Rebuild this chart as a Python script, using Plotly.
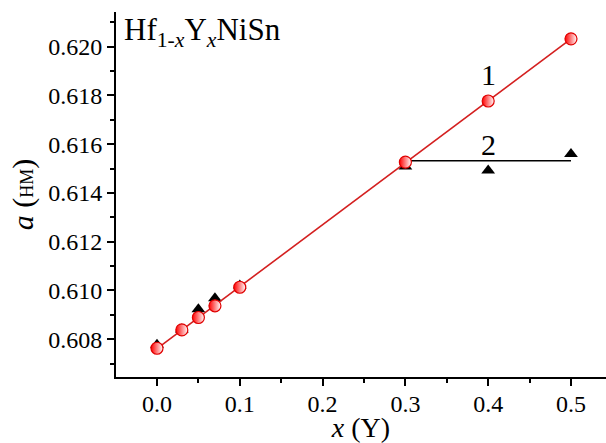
import plotly.graph_objects as go
import numpy as np

# Data
x_vals = [0.0, 0.03, 0.05, 0.07, 0.10, 0.30, 0.40, 0.50]
a_series1 = [0.60763, 0.60838, 0.60889, 0.60937, 0.61013, 0.61526, 0.61777, 0.62032]
a_series2 = [0.60777, 0.60840, 0.60923, 0.60968, 0.61020, 0.61508, 0.61492, 0.61560]
line2_x = [0.30, 0.50]
line2_y = [0.61532, 0.61532]
x_ticks = [0.0, 0.1, 0.2, 0.3, 0.4, 0.5]
y_ticks = [0.608, 0.610, 0.612, 0.614, 0.616, 0.618, 0.620]

coef = np.polyfit(x_vals, a_series1, 1)
fit_x = [0.0, 0.5]
fit_y = list(np.polyval(coef, fit_x))

FONT = "Liberation Serif"
AXFONT = "Times New Roman"

fig = go.Figure()
fig.add_trace(go.Scatter(x=x_vals, y=a_series2, mode="markers",
                         marker=dict(symbol="triangle-up", size=12, color="black",
                                     line=dict(width=0)), showlegend=False))
fig.add_trace(go.Scatter(x=line2_x, y=line2_y, mode="lines",
                         line=dict(color="black", width=1.6), showlegend=False))
fig.add_trace(go.Scatter(x=fit_x, y=fit_y, mode="lines",
                         line=dict(color="#d42020", width=1.6), showlegend=False))
fig.add_trace(go.Scatter(x=x_vals, y=a_series1, mode="markers",
                         marker=dict(symbol="circle", size=12, color="#ff0000",
                                     gradient=dict(type="horizontal", color="white"),
                                     line=dict(color="#e00000", width=1.2)),
                         showlegend=False))

fig.add_annotation(x=0.4, y=0.61884, text="1", showarrow=False,
                   font=dict(family=FONT, size=30, color="black"))
fig.add_annotation(x=0.4, y=0.61597, text="2", showarrow=False,
                   font=dict(family=FONT, size=30, color="black"))
fig.add_annotation(xref="paper", yref="paper", x=0.012, y=0.945,
                   xanchor="left", yanchor="middle",
                   text="Hf<sub>1-<i>x</i></sub>Y<sub><i>x</i></sub>NiSn", showarrow=False,
                   font=dict(family=FONT, size=31, color="black"))

fig.update_layout(width=606, height=443,
                  margin=dict(l=116, r=0, t=12, b=66),
                  paper_bgcolor="white", plot_bgcolor="white",
                  font_family=AXFONT, font_size=24, font_color="black")

fig.update_xaxes(range=[-0.0495, 0.5423], tickvals=x_ticks,
                 ticktext=[f"{v:.1f}" for v in x_ticks],
                 tickfont_family=AXFONT, tickfont_size=24, tickfont_color="black",
                 ticklabelstandoff=-3,
                 showline=True, linecolor="black", linewidth=2,
                 ticks="outside", ticklen=7, tickwidth=2, tickcolor="black",
                 showgrid=False, zeroline=False,
                 minor=dict(dtick=0.05, tick0=0, ticks="outside", ticklen=4,
                            tickwidth=2, tickcolor="black", showgrid=False),
                 title_text="<i>x</i> (Y)", title_font_family=AXFONT,
                 title_font_size=28, title_standoff=0)
fig.update_yaxes(range=[0.60645, 0.62142], tickvals=y_ticks,
                 ticktext=[f"{v:.3f}" for v in y_ticks],
                 tickfont_family=AXFONT, tickfont_size=24, tickfont_color="black",
                 showline=True, linecolor="black", linewidth=2,
                 ticks="outside", ticklen=7, tickwidth=2, tickcolor="black",
                 showgrid=False, zeroline=False,
                 minor=dict(dtick=0.001, tick0=0.607, ticks="outside", ticklen=4,
                            tickwidth=2, tickcolor="black", showgrid=False),
                 title_text="<i>a</i> (<span style='font-size:18px'>HM</span>)",
                 title_font_family=AXFONT, title_font_size=30, title_standoff=6)

fig.write_html("out.html")
